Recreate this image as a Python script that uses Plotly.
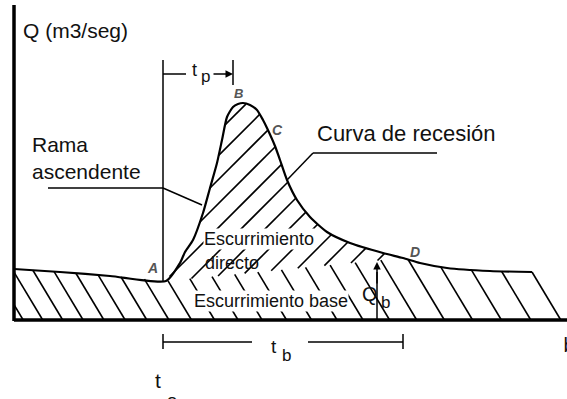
import plotly.graph_objects as go
import math

# ---------------- data ----------------
# hydrograph: time from the origin, discharge
time = [0, 46, 96, 152, 166, 171, 179, 189, 196, 203, 208, 213, 219, 224, 229,
        236, 243, 249, 253, 261, 266, 273, 283, 296, 313, 336, 369, 389, 406,
        433, 476, 518]
discharge = [51, 48, 44, 39, 57, 68, 80, 107, 132, 157, 180, 203, 213, 216, 217,
             215, 210, 200, 192, 174, 160, 140, 120, 103, 88, 77, 67, 62, 57,
             52, 49, 48]
idx_A = 3          # start of direct runoff
idx_D = 27         # end of direct runoff
t0 = 149           # start of storm response
t_peak_mark = 219  # end of tp bracket
t_end_base = 389   # end of tb bracket
t_qb = 363         # where Qb is marked

# ---------------- helpers ----------------
FONT = "Liberation Sans, Arial"
PAGE_W, PAGE_H = 567, 399


def d(px, py):
    """page pixel -> data units"""
    return px - 14, 320 - py


def hatch(poly_x, poly_y, direction, c_values):
    L = math.hypot(*direction)
    dx, dy = direction[0] / L, direction[1] / L
    nx, ny = -dy, dx
    P = list(zip(poly_x, poly_y))
    if P[0] != P[-1]:
        P.append(P[0])
    xs, ys = [], []
    for c in c_values:
        pts = []
        for (x1, y1), (x2, y2) in zip(P[:-1], P[1:]):
            s1 = nx * x1 + ny * y1 - c
            s2 = nx * x2 + ny * y2 - c
            if (s1 > 0) != (s2 > 0):
                f = s1 / (s1 - s2)
                x = x1 + f * (x2 - x1)
                y = y1 + f * (y2 - y1)
                pts.append((dx * x + dy * y, x, y))
        pts.sort()
        for i in range(0, len(pts) - 1, 2):
            xs += [pts[i][1], pts[i + 1][1], None]
            ys += [pts[i][2], pts[i + 1][2], None]
    return xs, ys


# ---------------- regions ----------------
tA, qA = time[idx_A], discharge[idx_A]
tD, qD = time[idx_D], discharge[idx_D]
slant = 0.6
t_foot = time[-1] + slant * discharge[-1]

base_x = [0] + time[:idx_A + 1] + time[idx_D:] + [t_foot, 0]
base_y = [0] + discharge[:idx_A + 1] + discharge[idx_D:] + [0, 0]

direct_x = time[idx_A:idx_D + 1] + [tA]
direct_y = discharge[idx_A:idx_D + 1] + [qA]

# base hatch "\"  (spacing grows to the right)
base_dir = (slant, -1)
Lb = math.hypot(*base_dir)
x0s = []
x = t_foot - 30
while x > -40:
    x0s.append(x)
    x -= 19 + 11 * max(x, 0) / t_foot
bx, by = hatch(base_x, base_y, base_dir, [x0 / Lb for x0 in x0s])

# direct runoff hatch "/"
dir_dir = (1, 1)
dx0s = [-80 + 24 * k for k in range(20)]
dxs, dys = hatch(direct_x, direct_y, dir_dir, [-x0 / math.sqrt(2) for x0 in dx0s])

fig = go.Figure()
fig.add_trace(go.Scatter(x=bx, y=by, mode="lines",
                         line=dict(color="black", width=1.6), hoverinfo="skip"))
fig.add_trace(go.Scatter(x=dxs, y=dys, mode="lines",
                         line=dict(color="black", width=1.6), hoverinfo="skip"))
# right slanted edge of base flow
fig.add_trace(go.Scatter(x=[time[-1], t_foot], y=[discharge[-1], 0], mode="lines",
                         line=dict(color="black", width=1.6), hoverinfo="skip"))
# hydrograph
fig.add_trace(go.Scatter(x=time, y=discharge, mode="lines",
                         line=dict(color="black", width=2.2, shape="spline", smoothing=0.6),
                         hoverinfo="skip"))

# texts that sit at the page edge: drawn as clipped text marks
edge = [("t", 158, 383, 21), ("o", 172, 402, 19), ("b", 569, 347, 20)]
for s, px, py, size in edge:
    ex, ey = d(px, py)
    fig.add_trace(go.Scatter(x=[ex], y=[ey], mode="text", text=[s],
                             textposition="middle center", cliponaxis=True,
                             textfont=dict(family=FONT, size=size, color="#111"),
                             hoverinfo="skip"))

shapes = []


def seg(p1, p2, w=1.5):
    (x1, y1), (x2, y2) = d(*p1), d(*p2)
    shapes.append(dict(type="line", xref="x", yref="y", x0=x1, y0=y1, x1=x2, y1=y2,
                       line=dict(color="black", width=w)))


# axes
seg((14, 5), (14, 321), 3.5)
seg((14, 320), (567, 320), 3.5)
# t0 vertical
shapes.append(dict(type="line", xref="x", yref="y", x0=t0, x1=t0, y0=qA, y1=d(0, 60)[1],
                   line=dict(color="black", width=1.5)))
# tp bracket
ytp = d(0, 74)[1]
shapes.append(dict(type="line", xref="x", yref="y", x0=t0, x1=d(186, 0)[0], y0=ytp, y1=ytp,
                   line=dict(color="black", width=1.5)))
shapes.append(dict(type="line", xref="x", yref="y", x0=t_peak_mark, x1=t_peak_mark,
                   y0=d(0, 60)[1], y1=d(0, 85)[1], line=dict(color="black", width=1.5)))
# tb bracket
ytb = d(0, 342)[1]
shapes.append(dict(type="line", xref="x", yref="y", x0=t0, x1=d(252, 0)[0], y0=ytb, y1=ytb,
                   line=dict(color="black", width=1.5)))
shapes.append(dict(type="line", xref="x", yref="y", x0=d(308, 0)[0], x1=t_end_base, y0=ytb, y1=ytb,
                   line=dict(color="black", width=1.5)))
for tt in (t0, t_end_base):
    shapes.append(dict(type="line", xref="x", yref="y", x0=tt, x1=tt,
                       y0=d(0, 334)[1], y1=d(0, 349)[1], line=dict(color="black", width=1.5)))
# leaders
seg((48, 188), (163, 188), 1.5)
seg((163, 188), (202, 205), 1.5)
seg((287, 180), (313, 153), 1.5)
seg((313, 153), (437, 153), 1.5)
# Qb line
shapes.append(dict(type="line", xref="x", yref="y", x0=t_qb, x1=t_qb, y0=0, y1=d(0, 272)[1],
                   line=dict(color="black", width=1.5)))

ann = []


def txt(s, px, py, size, anchor="left", color="#111", italic=False, bg=None):
    x, y = d(px, py)
    a = dict(x=x, y=y, xref="x", yref="y", text=s, showarrow=False,
             xanchor=anchor, yanchor="middle",
             font=dict(family=FONT, size=size, color=color,
                       style="italic" if italic else "normal",
                       weight="bold" if italic else "normal"))
    if bg:
        a["bgcolor"] = bg
        a["borderpad"] = 0
    ann.append(a)


txt("Q (m3/seg)", 21, 30, 21)
txt("Rama", 30, 144, 21)
txt("ascendente", 30, 171, 21)
txt("Curva de recesión", 315, 133, 22)
txt("Escurrimiento", 203, 239, 18, bg="white")
txt("directo", 203, 263, 18)
txt("Escurrimiento base", 193, 301, 18, bg="white")
txt("A", 152, 268, 14, "center", "#555", True)
txt("B", 238, 93, 13, "center", "#555", True)
txt("C", 277, 130, 14, "center", "#555", True)
txt("D", 415, 252, 14, "center", "#555", True)
txt("t", 194, 70, 18, "center")
txt("p", 205, 76, 17, "center")
txt("t", 274, 346, 19, "center")
txt("b", 286, 355, 17, "center")
txt("Q", 370, 294, 20, "center")
txt("b", 385, 302, 17, "center")

# arrows
xa, ya = d(233, 74)
xb, yb = d(212, 74)
ann.append(dict(x=xa, y=ya, ax=xb, ay=yb, xref="x", yref="y", axref="x", ayref="y",
                text="", showarrow=True, arrowhead=2, arrowsize=1, arrowwidth=1.5,
                arrowcolor="black"))
qx, qy = d(377, 262)
ann.append(dict(x=t_qb, y=qy, ax=t_qb, ay=d(0, 285)[1], xref="x", yref="y", axref="x", ayref="y",
                text="", showarrow=True, arrowhead=2, arrowsize=1, arrowwidth=1.5,
                arrowcolor="black"))

fig.update_layout(
    width=PAGE_W, height=PAGE_H, autosize=False,
    margin=dict(l=0, r=0, t=0, b=0, autoexpand=False),
    paper_bgcolor="white", plot_bgcolor="white",
    showlegend=False,
    xaxis=dict(range=[d(0, 0)[0], d(PAGE_W, 0)[0]], visible=False, fixedrange=True),
    yaxis=dict(range=[d(0, PAGE_H)[1], d(0, 0)[1]], visible=False, fixedrange=True),
    shapes=shapes, annotations=ann,
)
fig.write_html(
    "out.html",
    config={"displayModeBar": False},
    post_script="document.body.style.margin='0';"
                "document.documentElement.style.overflow='hidden';"
                "document.body.style.overflow='hidden';",
)
